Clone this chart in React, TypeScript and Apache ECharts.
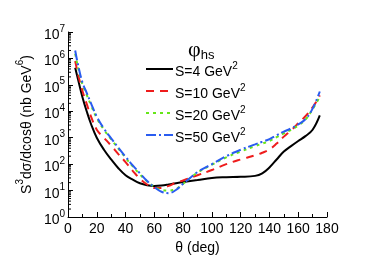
import React, { useEffect, useRef } from "react";
import * as echarts from "echarts";

const theta = [5, 7, 10, 13, 16, 20, 25, 30, 35, 40, 45, 50, 55, 60, 65, 70, 75, 80, 90, 100, 110, 120, 130, 135, 140, 145, 150, 155, 160, 165, 170, 175];

const s4 = [4.4e5, 1.6e5, 3.5e4, 1e4, 3.3e3, 1000, 350, 150, 70, 38, 26, 19, 16, 15, 15.5, 17, 19, 21, 25, 30, 32, 33, 36, 45, 75, 150, 300, 480, 750, 1150, 2000, 7000];
const s10 = [8e5, 2.5e5, 6e4, 1.9e4, 6.3e3, 2000, 1000, 500, 240, 120, 56, 28, 17, 12.5, 12.5, 15, 20, 24, 38, 60, 100, 150, 215, 270, 360, 600, 1100, 1900, 3500, 6500, 1.4e4, 4e4];
const s20 = [1.5e6, 4.5e5, 1.05e5, 4.2e4, 1.7e4, 5.5e3, 2000, 870, 390, 175, 82, 41, 22, 14, 10.5, 10, 11.5, 18, 48, 95, 180, 300, 480, 600, 750, 1050, 1450, 2000, 2900, 4800, 1.2e4, 3.5e4];
const s50 = [2e6, 5.6e5, 1.25e5, 5e4, 2e4, 6.3e3, 2200, 950, 420, 190, 90, 45, 23, 13.5, 9, 8, 10.5, 18, 50, 100, 200, 350, 560, 700, 890, 1250, 1700, 2250, 3200, 5000, 1.26e4, 5.6e4];

const sValues = ["4", "10", "20", "50"];
const seriesData = [s4, s10, s20, s50];
const colors = ["#000000", "#ee1c1c", "#66e619", "#2a5cf0"];
const dashes: any[] = ["solid", [8, 6], [3, 4], [10, 3, 2, 3]];

const xTicks = [0, 20, 40, 60, 80, 100, 120, 140, 160, 180];
const decades = [0, 1, 2, 3, 4, 5, 6, 7];

const FONT = "Liberation Sans, Arial, sans-serif";

const supRich = {
  a: { fontSize: 14, lineHeight: 18, verticalAlign: "bottom", fontFamily: FONT, color: "#000" },
  sup: { fontSize: 10, lineHeight: 8, verticalAlign: "top", fontFamily: FONT, color: "#000" },
};

export default function App() {
  const ref = useRef<HTMLDivElement>(null);
  useEffect(() => {
    if (!ref.current) return;
    const chart = echarts.init(ref.current, null, { renderer: "svg" });
    const minorVals: number[][] = [];
    for (let n = 0; n < 7; n++) {
      for (let k = 2; k <= 9; k++) minorVals.push([0, k * Math.pow(10, n)]);
    }
    const names = sValues.map((s) => `S=${s} GeV2`);
    const lineSeries = seriesData.map((vals, i) => ({
      name: names[i],
      type: "line",
      data: theta.map((t, j) => [t, vals[j]]),
      smooth: 0.4,
      symbol: "none",
      z: 2 + i,
      lineStyle: { color: colors[i], width: 2, type: dashes[i] },
      itemStyle: { color: colors[i] },
    }));
    chart.setOption({
      animation: false,
      textStyle: { fontFamily: FONT },
      grid: { left: 68, right: 55, top: 32, bottom: 45, containLabel: false },
      title: {
        text: "{p|φ}{s|hs}",
        left: 183,
        top: 32,
        textStyle: {
          fontWeight: "normal",
          rich: {
            p: { fontSize: 22, fontWeight: "normal", fontFamily: "Liberation Serif, serif", color: "#000", lineHeight: 24, verticalAlign: "top" },
            s: { fontSize: 13, fontWeight: "normal", fontFamily: FONT, color: "#000", lineHeight: 14, verticalAlign: "bottom" },
          },
        },
      },
      legend: {
        data: names,
        orient: "vertical",
        left: 140,
        top: 55,
        itemWidth: 27,
        itemHeight: 14,
        itemGap: 4,
        itemStyle: { opacity: 0 },
        formatter: (name: string) => {
          const i = names.indexOf(name);
          return `{a|S=${sValues[i]} GeV}{sup|2}`;
        },
        textStyle: { rich: supRich, padding: [0, 0, 0, -3] },
      },
      xAxis: {
        type: "value",
        min: 0,
        max: 180,
        interval: 20,
        name: "θ (deg)",
        nameLocation: "middle",
        nameGap: 23,
        nameTextStyle: { fontSize: 14, color: "#000", fontFamily: FONT },
        axisLine: { lineStyle: { color: "#000", width: 1 } },
        axisTick: { inside: true, length: 5, lineStyle: { color: "#000" } },
        minorTick: { show: true, splitNumber: 2, length: 3, lineStyle: { color: "#000" } },
        axisLabel: {
          fontSize: 14,
          color: "#000",
          margin: 4,
          formatter: (v: number) => (xTicks.includes(v) ? String(v) : ""),
        },
        splitLine: { show: false },
      },
      yAxis: {
        type: "log",
        logBase: 10,
        min: 1,
        max: 1e7,
        splitNumber: 7,
        name: "{a|S}{sup|3}{a|dσ/dcosθ (nb GeV}{sup|6}{a|)}",
        nameLocation: "middle",
        nameGap: 29,
        nameTextStyle: {
          rich: {
            a: { fontSize: 14, lineHeight: 18, verticalAlign: "bottom", fontFamily: FONT, color: "#000" },
            sup: { fontSize: 10, lineHeight: 8, verticalAlign: "top", fontFamily: FONT, color: "#000" },
          },
        },
        axisLine: { show: true, lineStyle: { color: "#000", width: 1 } },
        axisTick: { show: true, inside: true, length: 5, lineStyle: { color: "#000" } },
        axisLabel: {
          color: "#000",
          margin: 3,
          formatter: (v: number) => {
            const e = Math.round(Math.log10(v));
            return decades.includes(e) ? `{a|10}{sup|${e}}` : "";
          },
          rich: supRich,
        },
        splitLine: { show: false },
      },
      series: [
        ...lineSeries,
        {
          type: "custom",
          name: "minor",
          silent: true,
          clip: false,
          data: minorVals,
          renderItem: (params: any, api: any) => {
            const p = api.coord([0, api.value(1)]);
            return {
              type: "line",
              shape: { x1: p[0], y1: p[1], x2: p[0] + 3, y2: p[1] },
              style: { stroke: "#000", lineWidth: 1 },
            };
          },
        },
      ],
    });
    return () => chart.dispose();
  }, []);
  return <div ref={ref} style={{ position: "fixed", left: 0, top: 0, width: 382, height: 262 }} />;
}
